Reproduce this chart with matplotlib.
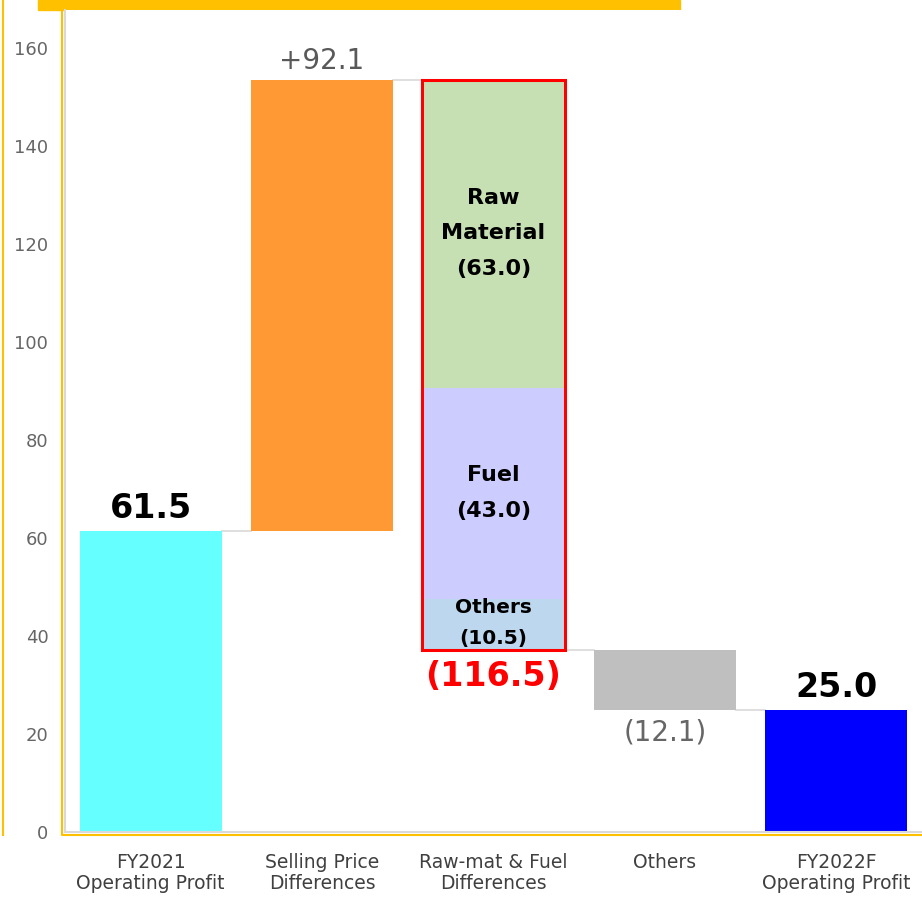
import matplotlib
matplotlib.use("Agg")
import matplotlib.pyplot as plt
from matplotlib.lines import Line2D
from matplotlib.patches import Rectangle

categories = ["FY2021\nOperating Profit", "Selling Price\nDifferences",
              "Raw-mat & Fuel\nDifferences", "Others", "FY2022F\nOperating Profit"]
start_value = 61.5
selling_price = 92.1
rawmat_parts = [10.5, 43.0, 63.0]          # Others, Fuel, Raw Material (bottom -> top)
rawmat_names = ["Others", "Fuel", "Raw\nMaterial"]
rawmat_total = 116.5
others_change = -12.1
end_value = 25.0
yticks = [0, 20, 40, 60, 80, 100, 120, 140, 160]

W, H = 922, 899
fig = plt.figure(figsize=(W / 100, H / 100), dpi=100)
ax = fig.add_axes([65 / W, (H - 832) / H, (W - 65) / W, (832 - 10) / H])
ax.set_xlim(-0.5, 4.5)
ax.set_ylim(0, 167.8)

bw = 0.83
c_cyan, c_orange, c_grey, c_blue = "#66FFFF", "#FF9933", "#BFBFBF", "#0000FF"
seg_colors = ["#BDD7EE", "#CCCCFF", "#C6E0B4"]

# bar 0
ax.bar(0, start_value, width=bw, color=c_cyan, zorder=2)
# bar 1
top1 = start_value + selling_price
ax.bar(1, selling_price, bottom=start_value, width=bw, color=c_orange, zorder=2)
# bar 2 stacked
bottom2 = top1 - rawmat_total
b = bottom2
for val, col, name in zip(rawmat_parts, seg_colors, rawmat_names):
    ax.bar(2, val, bottom=b, width=bw, color=col, zorder=2)
    if name == "Others":
        fs, ls, dy = 14.5, 1.75, 0.3
    else:
        fs, ls, dy = 16, 1.95, 0.1
    ax.text(2, b + val / 2 + dy, f"{name}\n({val:.1f})", ha="center", va="center",
            fontsize=fs, fontweight="bold", color="black", linespacing=ls, zorder=4)
    b += val
ax.add_patch(Rectangle((2 - bw / 2, bottom2), bw, rawmat_total, fill=False,
                       edgecolor="#FF0000", linewidth=2.2, zorder=5))
# bar 3
top3 = bottom2
bottom3 = top3 + others_change
ax.bar(3, -others_change, bottom=bottom3, width=bw, color=c_grey, zorder=2)
# bar 4
ax.bar(4, end_value, width=bw, color=c_blue, zorder=2)

# connectors
levels = [start_value, top1, bottom2, bottom3]
for i, lv in enumerate(levels):
    ax.plot([i + bw / 2, i + 1 - bw / 2], [lv, lv], color="#D9D9D9", lw=1.2, zorder=1)

# value labels
ax.text(0, start_value + 1.2, f"{start_value:.1f}", ha="center", va="bottom",
        fontsize=24, fontweight="bold", color="black")
ax.text(1, top1 + 1.0, f"+{selling_price:.1f}", ha="center", va="bottom",
        fontsize=20, color="#595959")
ax.text(2, bottom2 - 2.0, f"({rawmat_total:.1f})", ha="center", va="top",
        fontsize=24, fontweight="bold", color="#FF0000")
ax.text(3, bottom3 - 1.8, f"({-others_change:.1f})", ha="center", va="top",
        fontsize=20, color="#666666")
ax.text(4, end_value + 1.2, f"{end_value:.1f}", ha="center", va="bottom",
        fontsize=24, fontweight="bold", color="black")

ax.set_yticks(yticks)
ax.set_yticklabels([str(t) for t in yticks], fontsize=13, color="#666666")
ax.set_xticks(range(5))
ax.set_xticklabels(categories, fontsize=13.5, color="#404040", linespacing=1.15)
ax.tick_params(axis="both", length=0)
ax.tick_params(axis="y", pad=12)
ax.tick_params(axis="x", pad=15)
for s in ["top", "right"]:
    ax.spines[s].set_visible(False)
for s in ["left", "bottom"]:
    ax.spines[s].set_color("#D9D9D9")
    ax.spines[s].set_linewidth(1.5)

# decorative yellow frame elements
yel = "#FFC000"
fig.add_artist(Rectangle((38 / W, (H - 10) / H), (680 - 38) / W, 10 / H,
                         transform=fig.transFigure, color=yel, zorder=0))
fig.add_artist(Line2D([2.5 / W, 2.5 / W], [1, (H - 835) / H], transform=fig.transFigure,
                      color=yel, lw=1.5))
fig.add_artist(Line2D([62 / W, 62 / W, 1], [(H - 10) / H, (H - 835) / H, (H - 835) / H],
                      transform=fig.transFigure, color=yel, lw=1.5))

fig.savefig("out.png", dpi=100)
